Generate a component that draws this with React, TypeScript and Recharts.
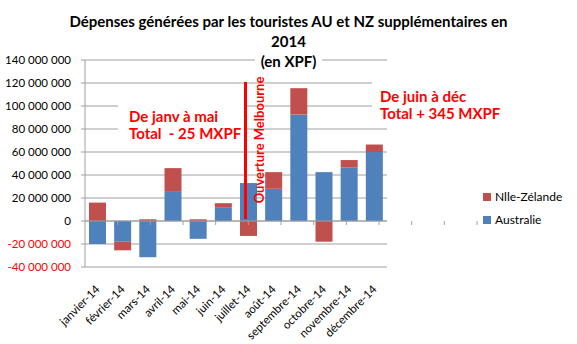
import React from "react";
import {
  BarChart,
  Bar,
  XAxis,
  YAxis,
  CartesianGrid,
  ReferenceLine,
  Legend,
} from "recharts";

const months = [
  "janvier-14",
  "février-14",
  "mars-14",
  "avril-14",
  "mai-14",
  "juin-14",
  "juillet-14",
  "août-14",
  "septembre-14",
  "octobre-14",
  "novembre-14",
  "décembre-14",
];

// valeurs en XPF
const australie = [
  -20000000, -18000000, -31500000, 26000000, -15500000, 12000000, 33000000,
  28000000, 92500000, 42500000, 46500000, 60000000,
];
const nouvelleZelande = [
  16000000, -7500000, 1500000, 20000000, 1500000, 3500000, -13000000,
  14500000, 23000000, -18000000, 6500000, 6500000,
];

const yTicks = [
  -40000000, -20000000, 0, 20000000, 40000000, 60000000, 80000000, 100000000,
  120000000, 140000000,
];

const series = [
  { key: "australie", name: "Australie", color: "#4F81BD" },
  { key: "nz", name: "Nlle-Zélande", color: "#C0504D" },
];

const data = months.map((month, i) => ({
  month,
  australie: australie[i],
  nz: nouvelleZelande[i],
}));

const FONT = "Lato, 'DejaVu Sans', sans-serif";
const GRID = "#a0a0a0";

// zone de tracé
const PLOT_LEFT = 85;
const PLOT_WIDTH = 392;
const ZERO_Y = 221;

const fmt = (v: number) => {
  const s = String(Math.abs(v)).replace(/\B(?=(\d{3})+(?!\d))/g, " ");
  return v < 0 ? "-" + s : s;
};

const YTick = (props: any) => {
  const { x, y, payload } = props;
  return (
    <text
      x={x - 8}
      y={y}
      dy={4}
      textAnchor="end"
      fontSize={11.5}
      fontFamily={FONT}
      fill={payload.value < 0 ? "#ff0000" : "#000"}
    >
      {fmt(payload.value)}
    </text>
  );
};

const XTick = (props: any) => {
  const { x, y, payload } = props;
  const tx = x + 3;
  const ty = y + 15;
  return (
    <text
      x={tx}
      y={ty}
      textAnchor="end"
      fontSize={11.5}
      fontFamily={FONT}
      fill="#000"
      transform={`rotate(-45, ${tx}, ${ty})`}
    >
      {payload.value}
    </text>
  );
};

const LegendContent = () => (
  <div style={{ fontFamily: FONT, fontSize: 12, color: "#000" }}>
    {[...series].reverse().map((s) => (
      <div
        key={s.key}
        style={{ display: "flex", alignItems: "center", height: 23 }}
      >
        <span
          style={{
            width: 8,
            height: 8,
            background: s.color,
            marginRight: 4,
            display: "inline-block",
          }}
        />
        {s.name}
      </div>
    ))}
  </div>
);

const redText: React.CSSProperties = {
  position: "absolute",
  color: "#ff0000",
  fontWeight: 700,
  fontFamily: FONT,
  fontSize: 15,
  lineHeight: "17px",
  background: "#fff",
  whiteSpace: "pre",
};

export default function App() {
  const step = PLOT_WIDTH / months.length;
  return (
    <div
      style={{
        position: "absolute",
        left: 0,
        top: 0,
        width: 577,
        height: 344,
        background: "#fff",
        fontFamily: FONT,
      }}
    >
      <BarChart
        width={577}
        height={344}
        data={data}
        stackOffset="sign"
        margin={{ top: 60, right: 100, left: 0, bottom: 0 }}
        barSize={17}
      >
        <CartesianGrid vertical={false} stroke={GRID} />
        <XAxis
          dataKey="month"
          interval={0}
          height={77}
          axisLine={false}
          tickLine={false}
          tick={<XTick />}
        />
        <YAxis
          width={85}
          domain={[-40000000, 140000000]}
          ticks={yTicks}
          interval={0}
          stroke={GRID}
          tickSize={4}
          tick={<YTick />}
        />
        <ReferenceLine y={0} stroke={GRID} />
        {series.map((s) => (
          <Bar
            key={s.key}
            dataKey={s.key}
            name={s.name}
            stackId="a"
            fill={s.color}
            isAnimationActive={false}
          />
        ))}
        <Legend
          layout="vertical"
          verticalAlign="top"
          align="right"
          content={<LegendContent />}
          wrapperStyle={{ left: 483, top: 185, width: 90 }}
        />
      </BarChart>

      {/* graduations de l'axe horizontal (entre catégories) */}
      <svg
        width={577}
        height={344}
        style={{ position: "absolute", left: 0, top: 0, pointerEvents: "none" }}
      >
        {months.map((m, i) => (
          <line
            key={m}
            x1={PLOT_LEFT + (i + 1) * step}
            x2={PLOT_LEFT + (i + 1) * step}
            y1={ZERO_Y}
            y2={ZERO_Y + 4}
            stroke={GRID}
          />
        ))}
      </svg>

      {/* titre */}
      <div
        style={{
          position: "absolute",
          left: 0,
          top: 11,
          width: 577,
          textAlign: "center",
          fontWeight: 700,
          fontSize: 15,
          lineHeight: "20px",
          color: "#000",
        }}
      >
        <div>Dépenses générées par les touristes AU et NZ supplémentaires en</div>
        <div>2014</div>
        <div>
          <span style={{ background: "#fff", padding: "0 6px" }}>(en XPF)</span>
        </div>
      </div>

      {/* annotations */}
      <div style={{ ...redText, left: 118, top: 95, padding: "13px 6px 6px 11px" }}>
        {"De janv à mai\nTotal  - 25 MXPF"}
      </div>
      <div style={{ ...redText, left: 372, top: 79, padding: "9px 6px 6px 8px" }}>
        {"De juin à déc\nTotal + 345 MXPF"}
      </div>
      <div
        style={{
          position: "absolute",
          left: 244,
          top: 82,
          width: 3,
          height: 137,
          background: "#ff0000",
        }}
      />
      <div
        style={{
          position: "absolute",
          left: 259,
          top: 140,
          transform: "translate(-50%, -50%) rotate(-90deg)",
          color: "#ff0000",
          fontWeight: 700,
          fontSize: 13,
          whiteSpace: "nowrap",
        }}
      >
        Ouverture Melbourne
      </div>
    </div>
  );
}
